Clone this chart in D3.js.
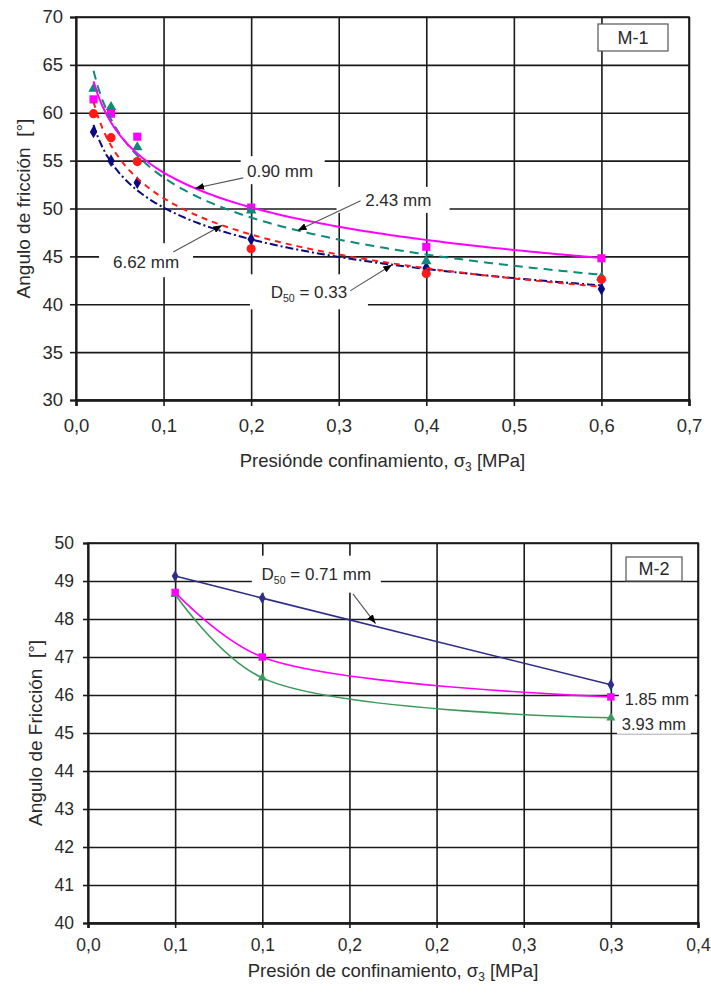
<!DOCTYPE html>
<html>
<head>
<meta charset="utf-8">
<script src="https://cdn.jsdelivr.net/npm/d3@7"></script>
<style>
  body { margin: 0; background: #fff; }
  svg { display: block; }
  text { font-family: "Liberation Sans", Arial, sans-serif; fill: #2a2a2a; }
</style>
</head>
<body>
<svg id="chart" width="711" height="994"></svg>
<script>
// ---- M-1 data ----
var m1Pressure = [0.02, 0.04, 0.07, 0.2, 0.4, 0.6];
var m1D033 = [58.0, 55.0, 52.7, 46.8, 43.8, 41.6];
var m1D090 = [61.4, 59.9, 57.5, 50.1, 46.0, 44.8];
var m1D243 = [62.5, 60.6, 56.4, 49.8, 44.5, 42.8];
var m1D662 = [59.9, 57.4, 54.9, 45.8, 43.2, 42.6];
var m1XTicks = [0, 0.1, 0.2, 0.3, 0.4, 0.5, 0.6, 0.7];
var m1XTickLabels = ["0,0", "0,1", "0,2", "0,3", "0,4", "0,5", "0,6", "0,7"];
var m1YTicks = [30, 35, 40, 45, 50, 55, 60, 65, 70];

// ---- M-2 data ----
var m2Pressure = [0.05, 0.1, 0.3];
var m2D071 = [49.13, 48.55, 46.27];
var m2D185 = [48.7, 47.0, 45.95];
var m2D393 = [48.65, 46.45, 45.4];
var m2XTicks = [0, 0.05, 0.1, 0.15, 0.2, 0.25, 0.3, 0.35];
var m2XTickLabels = ["0,0", "0,1", "0,1", "0,2", "0,2", "0,3", "0,3", "0,4"];
var m2YTicks = [40, 41, 42, 43, 44, 45, 46, 47, 48, 49, 50];

var colors = {
  navy: "#0a0a80",
  magenta: "#ff00ff",
  teal: "#0e8a7a",
  red: "#ff1a1a",
  blue2: "#2e2e88",
  green: "#3a9a5a"
};

var svg = d3.select("#chart");

// arrowhead used by the annotation leaders
svg.append("defs").append("marker")
  .attr("id", "arrow")
  .attr("markerUnits", "userSpaceOnUse")
  .attr("markerWidth", 9).attr("markerHeight", 7)
  .attr("refX", 9).attr("refY", 3.5)
  .attr("orient", "auto")
  .append("path").attr("d", "M0,0 L9,3.5 L0,7 z").attr("fill", "#000");

// least squares power fit y = a*x^b (Excel style trendline)
function powerFit(xs, ys) {
  var lx = xs.map(Math.log), ly = ys.map(Math.log);
  var mx = d3.mean(lx), my = d3.mean(ly);
  var sxy = d3.sum(lx, function (v, i) { return (v - mx) * (ly[i] - my); });
  var sxx = d3.sum(lx, function (v) { return (v - mx) * (v - mx); });
  var b = sxy / sxx, a = Math.exp(my - b * mx);
  return function (x) { return a * Math.pow(x, b); };
}

// grid, frame, axes for one panel
function drawFrame(g, x, y, w, h, xTicks, xLabels, yTicks, opt) {
  g.append("g").attr("class", "grid")
    .call(d3.axisLeft(y).tickValues(yTicks).tickSize(-w).tickFormat(""))
    .call(function (s) { s.select(".domain").remove(); })
    .selectAll("line").attr("stroke", "#1a1a1a").attr("stroke-width", 1.6);
  g.append("g").attr("class", "grid")
    .attr("transform", "translate(0," + h + ")")
    .call(d3.axisBottom(x).tickValues(xTicks).tickSize(-h).tickFormat(""))
    .call(function (s) { s.select(".domain").remove(); })
    .selectAll("line").attr("stroke", "#1a1a1a").attr("stroke-width", 1.6);

  g.append("rect").attr("width", w).attr("height", h)
    .attr("fill", "none").attr("stroke", "#1a1a1a").attr("stroke-width", 1.6);

  var ya = g.append("g")
    .call(d3.axisLeft(y).tickValues(yTicks).tickSize(opt.tick).tickPadding(opt.ypad));
  ya.select(".domain").attr("stroke", "#1a1a1a").attr("stroke-width", 1.8);
  ya.selectAll("line").attr("stroke", "#1a1a1a").attr("stroke-width", 1.6);
  ya.selectAll("text").attr("font-size", opt.font).attr("fill", "#2a2a2a")
    .style("font-family", "Liberation Sans, Arial, sans-serif");

  var xa = g.append("g").attr("transform", "translate(0," + h + ")")
    .call(d3.axisBottom(x).tickValues(xTicks).tickSize(opt.tick).tickPadding(opt.xpad)
      .tickFormat(function (d, i) { return xLabels[i]; }));
  xa.select(".domain").attr("stroke", "#1a1a1a").attr("stroke-width", 2.6);
  xa.selectAll("line").attr("stroke", "#1a1a1a").attr("stroke-width", 1.6);
  xa.selectAll("text").attr("font-size", opt.font).attr("fill", "#2a2a2a")
    .style("font-family", "Liberation Sans, Arial, sans-serif");
}

function labelBox(g, cx, cy, w, h) {
  g.append("rect").attr("x", cx - w / 2).attr("y", cy - h / 2)
    .attr("width", w).attr("height", h).attr("fill", "#fff");
}

function plainText(g, cx, cy, str, size) {
  return g.append("text").attr("x", cx).attr("y", cy).attr("dy", "0.35em")
    .attr("text-anchor", "middle").attr("font-size", size).text(str);
}

function d50Text(g, cx, cy, rest, size) {
  var t = g.append("text").attr("x", cx).attr("y", cy).attr("dy", "0.35em")
    .attr("text-anchor", "middle").attr("font-size", size);
  t.append("tspan").text("D");
  t.append("tspan").attr("font-size", size * 0.62).attr("dy", 4).text("50");
  t.append("tspan").attr("dy", -4).text(" = " + rest);
  return t;
}

function leader(g, x1, y1, x2, y2) {
  g.append("line").attr("x1", x1).attr("y1", y1).attr("x2", x2).attr("y2", y2)
    .attr("stroke", "#555").attr("stroke-width", 1.1).attr("marker-end", "url(#arrow)");
}

function tagBox(g, x0, y0, w, h, str, size) {
  g.append("rect").attr("x", x0).attr("y", y0).attr("width", w).attr("height", h)
    .attr("fill", "#fff").attr("stroke", "#555").attr("stroke-width", 1.2);
  plainText(g, x0 + w / 2, y0 + h / 2, str, size);
}

// ================= Panel M-1 =================
var m1 = { left: 76, top: 17, width: 613, height: 383 };
var g1 = svg.append("g").attr("transform", "translate(" + m1.left + "," + m1.top + ")");
var x1 = d3.scaleLinear().domain([0, 0.7]).range([0, m1.width]);
var y1 = d3.scaleLinear().domain([30, 70]).range([m1.height, 0]);

drawFrame(g1, x1, y1, m1.width, m1.height, m1XTicks, m1XTickLabels, m1YTicks,
  { tick: 6, ypad: 7, xpad: 13, font: 18.5 });

var m1Series = [
  { name: "0.33", vals: m1D033, color: colors.navy, dash: "8,3,2,3", shape: d3.symbolDiamond, size: 48 },
  { name: "0.90", vals: m1D090, color: colors.magenta, dash: null, shape: d3.symbolSquare, size: 66 },
  { name: "2.43", vals: m1D243, color: colors.teal, dash: "9,6", shape: d3.symbolTriangle, size: 48 },
  { name: "6.62", vals: m1D662, color: colors.red, dash: "6,5", shape: d3.symbolCircle, size: 66 }
];
m1Series.forEach(function (s) { s.fit = powerFit(m1Pressure, s.vals); });

// sample positions for the trend curves come from the x scale's own ticks
var m1Samples = x1.ticks(140).filter(function (v) { return v >= 0.02 && v <= 0.6; });

var trend = d3.line().x(function (d) { return x1(d[0]); }).y(function (d) { return y1(d[1]); });

// markers first, then trendlines
m1Series.forEach(function (s) {
  g1.append("g").selectAll("path")
    .data(m1Pressure.map(function (p, i) { return [p, s.vals[i]]; }))
    .join("path")
    .attr("transform", function (d) { return "translate(" + x1(d[0]) + "," + y1(d[1]) + ")"; })
    .attr("d", d3.symbol().type(s.shape).size(s.size))
    .attr("fill", s.color);
});
[m1Series[0], m1Series[3], m1Series[2], m1Series[1]].forEach(function (s) {
  g1.append("path")
    .datum(m1Samples.map(function (p) { return [p, s.fit(p)]; }))
    .attr("d", trend)
    .attr("fill", "none")
    .attr("stroke", s.color)
    .attr("stroke-width", 2)
    .attr("stroke-dasharray", s.dash);
});

// annotations M-1
var ann1 = g1.append("g");
labelBox(ann1, x1(0.236), y1(54.0), 84, 28);
plainText(ann1, x1(0.233), y1(53.9), "0.90 mm", 17);
leader(ann1, x1(0.191), y1(53.2), x1(0.136), y1(m1Series[1].fit(0.136)));

labelBox(ann1, x1(0.362), y1(50.9), 113, 26);
plainText(ann1, x1(0.368), y1(50.9), "2.43 mm", 17);
leader(ann1, x1(0.325), y1(50.8), x1(0.253), y1(m1Series[2].fit(0.253)));

labelBox(ann1, x1(0.080), y1(44.6), 94, 34);
plainText(ann1, x1(0.080), y1(44.4), "6.62 mm", 17);
leader(ann1, x1(0.111), y1(45.45), x1(0.167), y1(m1Series[3].fit(0.167)));

labelBox(ann1, x1(0.266), y1(41.3), 118, 35);
d50Text(ann1, x1(0.266), y1(41.3), "0.33", 17);
leader(ann1, x1(0.313), y1(41.4), x1(0.361), y1(m1Series[0].fit(0.361)));

tagBox(g1, m1.width - 91, 7, 70, 27, "M-1", 18);

// axis titles M-1
svg.append("text")
  .attr("transform", "translate(23," + (m1.top + m1.height / 2) + ") rotate(-90)")
  .attr("text-anchor", "middle").attr("dy", "0.35em").attr("font-size", 19)
  .text("Angulo de fricción\u00a0 [°]");
var t1 = svg.append("text")
  .attr("x", m1.left + m1.width / 2).attr("y", 467)
  .attr("text-anchor", "middle").attr("font-size", 18.5);
t1.append("tspan").text("Presiónde confinamiento, σ");
t1.append("tspan").attr("font-size", 12).attr("dy", 4).text("3");
t1.append("tspan").attr("dy", -4).text(" [MPa]");

// ================= Panel M-2 =================
var m2 = { left: 88, top: 543, width: 610, height: 380 };
var g2 = svg.append("g").attr("transform", "translate(" + m2.left + "," + m2.top + ")");
var x2 = d3.scaleLinear().domain([0, 0.35]).range([0, m2.width]);
var y2 = d3.scaleLinear().domain([40, 50]).range([m2.height, 0]);

drawFrame(g2, x2, y2, m2.width, m2.height, m2XTicks, m2XTickLabels, m2YTicks,
  { tick: 5, ypad: 9, xpad: 11, font: 17.5 });

var m2Series = [
  { name: "0.71", vals: m2D071, color: colors.blue2, shape: d3.symbolDiamond, size: 40 },
  { name: "1.85", vals: m2D185, color: colors.magenta, shape: d3.symbolSquare, size: 56 },
  { name: "3.93", vals: m2D393, color: colors.green, shape: d3.symbolTriangle, size: 36 }
];

var smooth = d3.line()
  .x(function (d) { return x2(d[0]); })
  .y(function (d) { return y2(d[1]); })
  .curve(d3.curveCatmullRom.alpha(0.5));

[m2Series[2], m2Series[1], m2Series[0]].forEach(function (s) {
  var pts = m2Pressure.map(function (p, i) { return [p, s.vals[i]]; });
  g2.append("path").datum(pts).attr("d", smooth)
    .attr("fill", "none").attr("stroke", s.color).attr("stroke-width", 1.6);
  g2.append("g").selectAll("path").data(pts).join("path")
    .attr("transform", function (d) { return "translate(" + x2(d[0]) + "," + y2(d[1]) + ")"; })
    .attr("d", d3.symbol().type(s.shape).size(s.size))
    .attr("fill", s.color);
});

// annotations M-2
var ann2 = g2.append("g");
labelBox(ann2, x2(0.131), y2(49.18), 129, 37);
d50Text(ann2, x2(0.131), y2(49.18), "0.71 mm", 17);
leader(ann2, x2(0.152), y2(48.66), x2(0.165), y2(47.88));

labelBox(ann2, x2(0.3264), y2(45.9), 76, 20);
plainText(ann2, x2(0.3264), y2(45.9), "1.85 mm", 16.5);
labelBox(ann2, x2(0.3247), y2(45.24), 74, 20);
plainText(ann2, x2(0.3247), y2(45.24), "3.93 mm", 16.5);

tagBox(g2, m2.width - 72, 14, 56, 24, "M-2", 18);

// axis titles M-2
svg.append("text")
  .attr("transform", "translate(35," + (m2.top + m2.height / 2) + ") rotate(-90)")
  .attr("text-anchor", "middle").attr("dy", "0.35em").attr("font-size", 19)
  .text("Angulo de Fricción\u00a0 [°]");
var t2 = svg.append("text")
  .attr("x", m2.left + m2.width / 2).attr("y", 977)
  .attr("text-anchor", "middle").attr("font-size", 18.5);
t2.append("tspan").text("Presión de confinamiento, σ");
t2.append("tspan").attr("font-size", 12).attr("dy", 4).text("3");
t2.append("tspan").attr("dy", -4).text(" [MPa]");
</script>
</body>
</html>
